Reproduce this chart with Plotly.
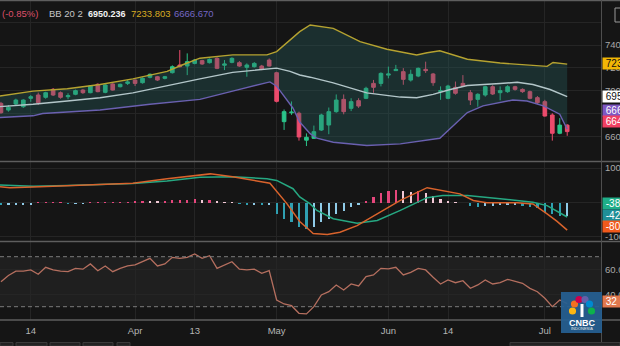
import plotly.graph_objects as go

# ---------------- data ----------------
day_idx = list(range(77))  # trading-day index, 8 Mar 2022 .. 6 Jul 2022

opens = [6892, 6834, 6887, 6863, 6936, 6965, 6945, 7014, 6985, 6950,
         6971, 7008, 6985, 7058, 6988, 7061, 7037, 7066, 7095, 7072,
         7119, 7124, 7110, 7159, 7226, 7217, 7240, 7264, 7246, 7284,
         7224, 7249, 7246, 7206, 7211, 7217, 7269, 7159, 6733, 6810,
         6806, 6572, 6588, 6660, 6704, 6820, 6927, 6849, 6916, 6936,
         7066, 7066, 7138, 7177, 7168, 7095, 7130, 7188, 7148, 6994,
         6936, 7032, 7066, 6985, 6927, 6965, 7037, 6985, 6994, 7037,
         7014, 6994, 6942, 6907, 6791, 6632, 6703]
highs = [6905, 6877, 6933, 6928, 6964, 6986, 6993, 7026, 6996, 6980,
         7012, 7017, 7050, 7066, 7059, 7068, 7064, 7095, 7101, 7118,
         7152, 7131, 7131, 7223, 7356, 7327, 7277, 7271, 7283, 7293,
         7269, 7293, 7260, 7240, 7251, 7227, 7283, 7167, 6839, 6909,
         6820, 6631, 6699, 6802, 6856, 6970, 6970, 6937, 6937, 7037,
         7096, 7162, 7212, 7227, 7199, 7185, 7204, 7255, 7157, 7040,
         7054, 7082, 7138, 7008, 6980, 7045, 7050, 7040, 7050, 7045,
         7022, 7003, 6956, 6923, 6806, 6764, 6712]
lows = [6802, 6820, 6877, 6853, 6906, 6878, 6933, 6956, 6933, 6928,
        6963, 6975, 6980, 6989, 6980, 7003, 7031, 7052, 7043, 7064,
        7110, 7087, 7101, 7152, 7204, 7138, 7232, 7227, 7239, 7190,
        7182, 7241, 7210, 7124, 7204, 7181, 7213, 6900, 6661, 6792,
        6568, 6521, 6582, 6652, 6624, 6811, 6797, 6825, 6853, 6929,
        6984, 7040, 7110, 7176, 7054, 7082, 7120, 7157, 7045, 6923,
        6928, 6968, 7038, 6878, 6863, 6951, 6965, 6919, 6984, 7003,
        6984, 6928, 6886, 6778, 6568, 6624, 6610]
closes = [6811, 6858, 6921, 6921, 6950, 6898, 6985, 6965, 6945, 6959,
          7003, 6985, 7043, 6994, 7052, 7008, 7058, 7079, 7066, 7110,
          7145, 7095, 7124, 7211, 7211, 7255, 7269, 7235, 7275, 7197,
          7235, 7284, 7217, 7226, 7240, 7188, 7217, 6910, 6820, 6816,
          6600, 6597, 6646, 6791, 6820, 6921, 6820, 6907, 6869, 7023,
          7032, 7153, 7148, 7188, 7101, 7145, 7197, 7177, 7072, 7003,
          7043, 6980, 7043, 6921, 6971, 7037, 6974, 7003, 7037, 7014,
          6994, 6936, 6898, 6782, 6632, 6703, 6646.41]

# Bollinger bands (20, 2) read at positions along the day index
bb_up_x = [-0.13, 4.3, 8.9, 13.3, 17.7, 22.3, 24.4, 26.7, 31.1, 35.7, 37.0,
           40.1, 41.5, 44.6, 48.2, 51.8, 55.8, 57.2, 58.9, 60.7, 62.6, 67.0,
           71.4, 73.3, 74.1, 76.0]
bb_up = [6956, 6999, 7019, 7056, 7105, 7171, 7228, 7285, 7314, 7314, 7343,
         7516, 7574, 7545, 7429, 7363, 7313, 7333, 7350, 7313, 7276, 7243,
         7220, 7214, 7248, 7233.803]
bb_mid_x = [-0.13, 4.3, 8.9, 13.3, 17.7, 22.3, 26.7, 31.1, 35.7, 37.0, 38.8,
            40.1, 41.5, 44.6, 49.1, 53.6, 55.8, 58.0, 60.3, 62.6, 67.0, 69.3,
            71.4, 73.7, 76.0]
bb_mid = [6864, 6884, 6913, 6941, 6984, 7048, 7105, 7162, 7191, 7199, 7171,
          7139, 7120, 7070, 6984, 6947, 6941, 6970, 7013, 7048, 7065, 7076,
          7056, 7013, 6950.236]
bb_lo_x = [-0.13, 4.3, 5.6, 8.9, 13.3, 20.0, 22.3, 26.7, 31.1, 35.7, 36.1,
           37.0, 39.2, 40.1, 41.5, 42.4, 44.6, 49.1, 53.6, 58.9, 61.2, 62.6,
           64.7, 67.0, 68.7, 70.6, 72.8, 75.0, 76.0]
bb_lo = [6769, 6784, 6804, 6818, 6835, 6884, 6898, 6927, 6999, 7076, 7079,
         7042, 6850, 6730, 6629, 6589, 6554, 6526, 6540, 6589, 6726, 6812,
         6870, 6898, 6922, 6913, 6870, 6798, 6666.670]

# MACD (12, 26, 9)
macd_x = [-0.13, 1.2, 4.3, 8.9, 13.3, 17.7, 22.3, 26.7, 28.1, 31.1, 35.7,
          36.1, 38.4, 40.1, 41.5, 41.9, 43.8, 45.5, 47.8, 50.5, 53.6, 57.2,
          59.3, 61.6, 63.4, 65.2, 69.3, 71.4, 73.3, 74.6, 76.0]
macd_line = [46, 43, 45, 49, 52, 56, 69, 80, 83, 75, 59, 56, -4, -55, -82,
             -90, -93, -86, -67, -33, 6, 43, 35, 25, 6, -1, -1, -4, -33, -54,
             -80]
signal_x = [-0.13, 4.3, 8.9, 13.3, 17.7, 22.3, 26.7, 31.1, 35.7, 37.0, 39.2,
            40.1, 41.5, 42.4, 44.6, 47.8, 50.5, 53.6, 57.2, 59.3, 62.6, 67.0,
            71.4, 73.3, 76.0]
signal_line = [51, 47, 49, 52, 55, 62, 73, 75, 69, 64, 40, 16, -4, -23, -47,
               -60, -52, -23, 14, 20, 20, 11, 1, -9, -42]
macd_hist = [-3, -3, -3, -3, -3, 2, 2, 2, 2, -1,
             -1, -1, 2, 2, 2, 2, 2, 2, 4, 6,
             5, 3, 4, 8, 9, 10, 11, 9, 10, 3,
             2, 1, -2, -3, -3, -4, -4, -32, -46, -55,
             -70, -76, -71, -55, -46, -32, -23, -12, -4, 3,
             16, 30, 36, 39, 35, 33, 36, 30, 20, 11,
             6, 2, 0, -8, -12, -9, -9, -7, -7, -7,
             -9, -12, -14, -28, -33, -38, -38]

# RSI (14)
rsi = [50, 55, 58.5, 58.5, 59.4, 56, 61.5, 59.4, 58.5, 58,
       60.7, 60, 64.2, 58.8, 62.6, 58, 60.7, 62.6, 63.4, 66,
       68.7, 62.6, 64.2, 69.5, 68.7, 69.5, 72.2, 68.7, 70.8, 60.7,
       63.4, 66, 60, 59.4, 60, 56.7, 58.8, 35.4, 32.2, 30.8,
       24.7, 24.2, 30, 39.4, 42, 47.4, 43.4, 48.2, 46.6, 54,
       55.4, 60.7, 60.2, 61.5, 55.4, 57.5, 60.7, 59.4, 53.5, 48.2,
       51.4, 49.2, 50.8, 44.7, 47.4, 51.4, 48.2, 49.2, 51.9, 50,
       48.7, 44.7, 42, 36.7, 30, 35.4, 32.5]

tick_idx = [4, 18, 26, 37, 52, 60, 73]
tick_text = ["14", "Apr", "13", "May", "Jun", "14", "Jul"]

price_ticks = [6600, 6800, 7000, 7200, 7400, 7600]
price_tick_text = ["6600.000", "6800.000", "7000.000", "7200.000", "7400.000", ""]
macd_ticks = [-100, 0, 100]
macd_tick_text = ["-100.000", "0.000", "100.000"]
rsi_ticks = [40, 60]
rsi_tick_text = ["40.000", "60.000"]

# ---------------- styling ----------------
BG = "#151515"
GRID = "#252525"
GREEN = "#2bc48a"
RED = "#ec4b6c"
FONT = "Liberation Sans, Arial, sans-serif"
W, H, PW, PH = 620, 346, 602, 320   # page and plot-area size in px


def py(ypix):
    return (PH - ypix) / PH


def px(xpix):
    return xpix / PW


fig = go.Figure()

# Bollinger bands
fig.add_trace(go.Scatter(x=bb_up_x, y=bb_up, mode="lines",
                         line=dict(color="#b5a230", width=1.4),
                         xaxis="x", yaxis="y", hoverinfo="skip"))
fig.add_trace(go.Scatter(x=bb_lo_x, y=bb_lo, mode="lines",
                         line=dict(color="#6a60b0", width=1.4),
                         fill="tonexty", fillcolor="rgba(38,100,100,0.33)",
                         xaxis="x", yaxis="y", hoverinfo="skip"))
fig.add_trace(go.Scatter(x=bb_mid_x, y=bb_mid, mode="lines",
                         line=dict(color="#b3c6c9", width=1.4),
                         xaxis="x", yaxis="y", hoverinfo="skip"))

# candles
fig.add_trace(go.Candlestick(
    x=day_idx, open=opens, high=highs, low=lows, close=closes,
    increasing=dict(line=dict(color=GREEN, width=1), fillcolor=GREEN),
    decreasing=dict(line=dict(color=RED, width=1), fillcolor=RED),
    whiskerwidth=0, xaxis="x", yaxis="y", hoverinfo="skip"))

# MACD histogram colours
hist_colors = []
prev = 0
for v in macd_hist:
    if v >= 0:
        hist_colors.append("#e5467c" if v >= prev else "#f2c9d6")
    else:
        hist_colors.append("#2fa0b2" if v < prev else "#8fcbe8")
    prev = v

fig.add_trace(go.Bar(x=day_idx, y=macd_hist, width=0.3,
                     marker=dict(color=hist_colors, line=dict(width=0)),
                     xaxis="x2", yaxis="y2", hoverinfo="skip"))
fig.add_trace(go.Scatter(x=signal_x, y=signal_line, mode="lines",
                         line=dict(color="#26a882", width=1.5),
                         xaxis="x2", yaxis="y2", hoverinfo="skip"))
fig.add_trace(go.Scatter(x=macd_x, y=macd_line, mode="lines",
                         line=dict(color="#d9632c", width=1.5),
                         xaxis="x2", yaxis="y2", hoverinfo="skip"))

# RSI
fig.add_trace(go.Scatter(x=day_idx, y=rsi, mode="lines",
                         line=dict(color="#b56f5f", width=1.3),
                         xaxis="x3", yaxis="y3", hoverinfo="skip"))

xr = [-0.13, 80.67]
xcommon = dict(range=xr, tickvals=tick_idx, ticktext=tick_text, showgrid=True,
               gridcolor=GRID, gridwidth=1, zeroline=False, showline=False,
               ticks="", fixedrange=True, automargin=False)
ycommon = dict(side="right", showgrid=True, gridcolor=GRID, zeroline=False,
               showline=False, ticks="", fixedrange=True, automargin=False,
               ticklabelstandoff=2,
               tickfont=dict(size=9.5, color="#a9a9a9", family=FONT))

fig.update_layout(
    width=W, height=H,
    margin=dict(l=0, r=W - PW, t=0, b=H - PH, autoexpand=False),
    paper_bgcolor=BG, plot_bgcolor=BG,
    showlegend=False, bargap=0,
    font=dict(family=FONT, color="#a9a9a9"),
    xaxis=dict(domain=[0, 1], anchor="y", showticklabels=False,
               rangeslider=dict(visible=False), **xcommon),
    xaxis2=dict(domain=[0, 1], anchor="y2", showticklabels=False, matches="x", **xcommon),
    xaxis3=dict(domain=[0, 1], anchor="y3", showticklabels=True, matches="x",
                ticklabelstandoff=3,
                tickfont=dict(size=9.5, color="#b4b4b4", family=FONT), **xcommon),
    yaxis=dict(domain=[py(161.5), 1], range=[6386.5, 7791.5], anchor="x",
               tickvals=price_ticks, ticktext=price_tick_text, **ycommon),
    yaxis2=dict(domain=[py(241.5), py(161.5)], range=[-113.1, 118.9], anchor="x2",
                tickvals=macd_ticks, ticktext=macd_tick_text, **ycommon),
    yaxis3=dict(domain=[0, py(241.5)], range=[19.36, 82.16], anchor="x3",
                tickvals=rsi_ticks, ticktext=rsi_tick_text, **ycommon),
)

shapes = []
# RSI band and dashed levels
shapes.append(dict(type="rect", xref="paper", yref="y3", x0=0, x1=1, y0=30, y1=70,
                   fillcolor="rgba(255,255,255,0.045)", line=dict(width=0), layer="below"))
for lvl in (70, 30):
    shapes.append(dict(type="line", xref="paper", yref="y3", x0=0, x1=1, y0=lvl, y1=lvl,
                       line=dict(color="#7a7a7a", width=1, dash="4px,3px"), layer="above"))
# panel separators and frame lines
for yp in (0.6, 161.5, 241.5, 320):
    shapes.append(dict(type="line", xref="paper", yref="paper", x0=0, x1=W / PW,
                       y0=py(yp), y1=py(yp), line=dict(color="#5e5e5e", width=1.5), layer="above"))
shapes.append(dict(type="line", xref="paper", yref="paper", x0=px(601.5), x1=px(601.5),
                   y0=py(0), y1=py(H), line=dict(color="#4e4e4e", width=1), layer="above"))
# bottom toolbar hints
for x0, x1 in ((0, 13), (16, 47), (50, 80), (83, 113), (117, 130), (510, 620)):
    shapes.append(dict(type="rect", xref="paper", yref="paper", x0=px(x0), x1=px(x1),
                       y0=py(346), y1=py(342.5), fillcolor="#222222",
                       line=dict(color="#3a3a3a", width=1), layer="above"))
# small button outline at top right
shapes.append(dict(type="rect", xref="paper", yref="paper", x0=px(615), x1=px(622),
                   y0=py(22), y1=py(8), fillcolor=BG,
                   line=dict(color="#9a9a9a", width=1), layer="above"))

# CNBC Indonesia watermark
shapes.append(dict(type="rect", xref="paper", yref="paper", x0=px(561), x1=px(602),
                   y0=py(333), y1=py(292), fillcolor="rgba(38,96,146,0.93)",
                   line=dict(width=0), layer="above"))
feathers = [("#fcb711", 572.5, 311), ("#f37021", 574.5, 304), ("#cc004c", 579, 299.5),
            ("#6460aa", 585, 299.5), ("#0089d0", 589.5, 304), ("#0db14b", 591.5, 311)]
for col, cx, cy in feathers:
    shapes.append(dict(type="circle", xref="paper", yref="paper",
                       x0=px(cx - 3.6), x1=px(cx + 3.6), y0=py(cy + 3.6), y1=py(cy - 3.6),
                       fillcolor=col, line=dict(width=0), layer="above"))
shapes.append(dict(type="rect", xref="paper", yref="paper", x0=px(580.5), x1=px(583.5),
                   y0=py(317), y1=py(304), fillcolor="#ffffff", line=dict(width=0), layer="above"))
fig.update_layout(shapes=shapes)

ann = []
# legend line at top-left
title_parts = [("(-0.85%)", "#de4f69", 0, False), ("BB 20 2", "#c6c6c6", 47, False),
               ("6950.236", "#f2f2f2", 86, True), ("7233.803", "#d8ac22", 129, False),
               ("6666.670", "#7466c4", 172, False)]
for txt, col, xpix, bold in title_parts:
    ann.append(dict(xref="paper", yref="paper", x=px(xpix), y=py(14), xanchor="left",
                    yanchor="middle", showarrow=False,
                    text=f"<b>{txt}</b>" if bold else txt,
                    font=dict(size=9 if bold else 9.5, color=col, family=FONT)))

# right-axis value tags
tags = [("7233.803", "#f2b705", "#111111", 63.8),
        ("6950.236", "#ffffff", "#111111", 96.8),
        ("6666.670", "#7e57c2", "#ffffff", 110.5),
        ("6646.410", "#ef3f62", "#ffffff", 121.7),
        ("-38", "#1fae88", "#ffffff", 203.5),
        ("-42", "#1f8f98", "#ffffff", 215.5),
        ("-80", "#f0591c", "#ffffff", 226.5),
        ("32", "#e0784e", "#ffffff", 301.0)]
for txt, bg, fg, ypix in tags:
    ann.append(dict(xref="paper", yref="paper", x=px(602), y=py(ypix), xanchor="left",
                    yanchor="middle", showarrow=False,
                    text="&nbsp;" + txt + "&nbsp;&nbsp;&nbsp;&nbsp;",
                    bgcolor=bg, borderpad=0, align="left",
                    font=dict(size=10, color=fg, family=FONT)))

# watermark text
ann.append(dict(xref="paper", yref="paper", x=px(581.5), y=py(322.5), xanchor="center",
                yanchor="middle", showarrow=False, text="<b>CNBC</b>",
                font=dict(size=9, color="#ffffff", family=FONT)))
ann.append(dict(xref="paper", yref="paper", x=px(581.5), y=py(328.5), xanchor="center",
                yanchor="middle", showarrow=False, text="INDONESIA",
                font=dict(size=4, color="#e8e8e8", family=FONT)))
fig.update_layout(annotations=ann)

fig.write_html("out.html", config=dict(displayModeBar=False))
